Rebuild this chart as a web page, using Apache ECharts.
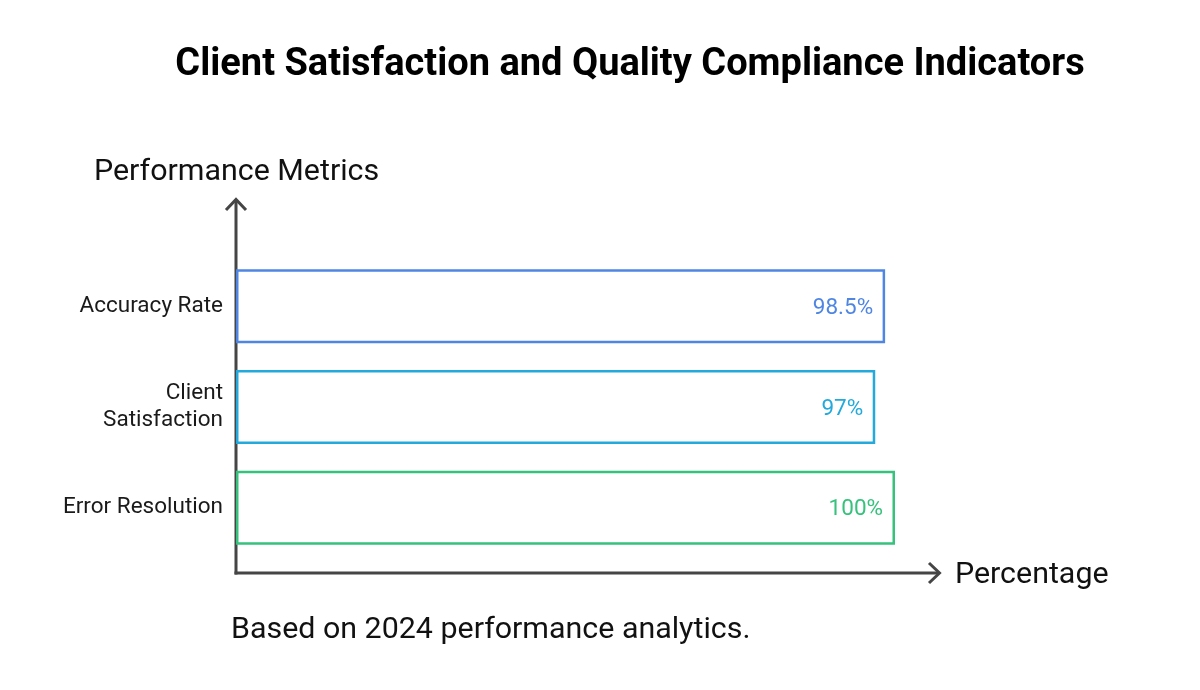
<!DOCTYPE html>
<html>
<head>
<meta charset="utf-8">
<script src="https://cdn.jsdelivr.net/npm/echarts@6/dist/echarts.min.js"></script>
<style>html,body{margin:0;padding:0;background:#fff}#c{width:1200px;height:690px}</style>
</head>
<body>
<div id="c"></div>
<script>
const categories = ['Accuracy Rate', 'Client Satisfaction', 'Error Resolution'];
const values = [98.5, 97, 100];
const valueLabels = ['98.5%', '97%', '100%'];
const colors = ['#4f86e3', '#23a9db', '#36c27d'];

const chart = echarts.init(document.getElementById('c'), null, {renderer: 'canvas'});
const FONT = 'Roboto, "Noto Sans", sans-serif';
const axisColor = '#454545';

chart.setOption({
  animation: false,
  backgroundColor: '#fff',
  grid: {left: 236, right: 305, top: 256, bottom: 132, containLabel: false},
  xAxis: {
    type: 'value', min: 0, max: 100,
    axisLine: {show: false}, axisTick: {show: false}, axisLabel: {show: false}, splitLine: {show: false}
  },
  yAxis: {
    type: 'category', inverse: true, data: categories,
    axisLine: {show: false}, axisTick: {show: false}, splitLine: {show: false},
    axisLabel: {
      fontFamily: FONT, fontSize: 22.5, color: '#1a1a1a', margin: 13, lineHeight: 27, align: 'right',
      padding: [6, 0, 0, 0],
      formatter: v => v === 'Client Satisfaction' ? 'Client\nSatisfaction' : v
    }
  },
  series: [{
    type: 'bar',
    barWidth: 74,
    data: values.map((v, i) => ({
      value: v,
      itemStyle: {color: '#fff', borderColor: colors[i], borderWidth: 2.5},
      label: {show: true, position: 'insideRight', distance: 12, offset: [0, 2], formatter: valueLabels[i],
        color: colors[i], fontFamily: FONT, fontSize: 22.5}
    }))
  }],
  graphic: [
    {type: 'text', x: 630, y: 65, style: {text: 'Client Satisfaction and Quality Compliance Indicators',
      fontFamily: FONT, fontSize: 38, fontWeight: 'bold', fill: '#000', textAlign: 'center', textVerticalAlign: 'middle'}},
    {type: 'text', x: 94, y: 172, style: {text: 'Performance Metrics', fontFamily: FONT, fontSize: 30.4, fill: '#111', textVerticalAlign: 'middle'}},
    {type: 'text', x: 955, y: 575, style: {text: 'Percentage', fontFamily: FONT, fontSize: 30.4, fill: '#111', textVerticalAlign: 'middle'}},
    {type: 'text', x: 231, y: 630, style: {text: 'Based on 2024 performance analytics.', fontFamily: FONT, fontSize: 30.4, fill: '#111', textVerticalAlign: 'middle'}},
    {type: 'line', shape: {x1: 236, y1: 574.5, x2: 236, y2: 200}, style: {stroke: axisColor, lineWidth: 3}},
    {type: 'polyline', shape: {points: [[226, 210], [236, 199.5], [246, 210]]}, style: {stroke: axisColor, lineWidth: 3, fill: null}},
    {type: 'line', shape: {x1: 234.5, y1: 573, x2: 939, y2: 573}, style: {stroke: axisColor, lineWidth: 3}},
    {type: 'polyline', shape: {points: [[929, 563], [939.5, 573], [929, 583]]}, style: {stroke: axisColor, lineWidth: 3, fill: null}}
  ]
});
</script>
</body>
</html>
